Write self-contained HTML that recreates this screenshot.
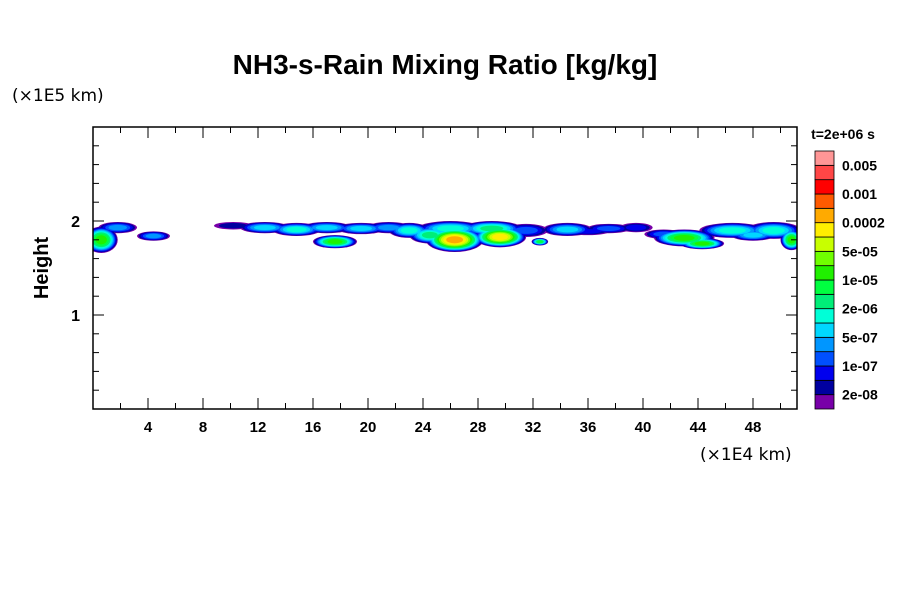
<!DOCTYPE html>
<html><head><meta charset="utf-8"><style>
body{margin:0;background:#fff;}
svg{display:block;font-family:"Liberation Sans",sans-serif;}
</style></head><body>
<svg id="c" width="900" height="600">
<text x="445" y="74" text-anchor="middle" font-size="28" font-weight="bold">NH3-s-Rain Mixing Ratio [kg/kg]</text>
<text x="12" y="101" font-size="17" font-family="DejaVu Sans, sans-serif">(×1E5 km)</text>
<text x="700" y="460" font-size="17" font-family="DejaVu Sans, sans-serif">(×1E4 km)</text>
<text x="48" y="268" font-size="20" font-weight="bold" text-anchor="middle" transform="rotate(-90 48 268)">Height</text>
<text x="843" y="139" font-size="14" font-weight="bold" text-anchor="middle">t=2e+06 s</text>
<g id="plot"></g>
<g id="axes"></g>
<g id="cbar"></g>
</svg>
<script>
const colors=["#7800a8","#0000a0","#0000ee","#0050ff","#0096ff","#00d7ff","#00ffd7","#00ee78","#00ff40","#20f000","#70ff00","#c8ff00","#ffee00","#ffaa00","#ff5a00","#ff0000","#ff4646","#ff9696"];
const cbLabels=["2e-08","1e-07","5e-07","2e-06","1e-05","5e-05","0.0002","0.001","0.005"];
const xTicks=[4,8,12,16,20,24,28,32,36,40,44,48];
const yTicks=[1,2];
// blobs: center x (1e4 km), center y (1e5 km), half-width, half-height, peak level
const blobX=[0.6,1.8,4.4,10.2,12.5,14.8,17.0,19.5,21.5,17.6,23.0,26.3,26.0,29.6,29.0,32.5,34.5,37.5,39.5,43.0,44.3,46.5,49.5,50.8,24.5,31.5,36.0,41.5,48.0];
const blobY=[1.80,1.93,1.84,1.95,1.93,1.91,1.93,1.92,1.93,1.78,1.90,1.80,1.92,1.83,1.92,1.78,1.91,1.92,1.93,1.82,1.76,1.90,1.90,1.80,1.85,1.90,1.89,1.86,1.85];
const blobW=[1.2,1.4,1.2,1.4,1.8,1.8,1.8,1.8,1.6,1.6,1.5,2.1,2.4,1.9,2.2,0.6,1.8,1.6,1.2,2.2,1.6,2.4,2.0,0.8,1.5,1.6,1.6,1.4,1.6];
const blobH=[0.14,0.06,0.05,0.04,0.06,0.07,0.06,0.06,0.06,0.07,0.08,0.13,0.08,0.11,0.08,0.04,0.07,0.05,0.05,0.09,0.06,0.08,0.09,0.11,0.09,0.07,0.04,0.05,0.06];
const blobP=[9,4,4,1,5,6,5,5,4,9,6,13,6,12,7,8,5,3,2,9,9,6,6,9,7,3,2,3,5];
const X0=93,X1=797,Y0=409,Y1=127,xMax=51.2,yMax=3.0;
const sx=v=>X0+v/xMax*(X1-X0), sy=v=>Y0-v/yMax*(Y0-Y1);
const NS="http://www.w3.org/2000/svg";
function el(t,a,p){const e=document.createElementNS(NS,t);for(const k in a)e.setAttribute(k,a[k]);p.appendChild(e);return e;}
const plot=document.getElementById('plot');
const cp=el('clipPath',{id:'clp'},plot);el('rect',{x:X0,y:Y1,width:X1-X0,height:Y0-Y1},cp);
const g=el('g',{'clip-path':'url(#clp)'},plot);
for(let k=0;k<=13;k++){
  for(let i=0;i<blobX.length;i++){
    if(blobP[i]<k)continue;
    const s=1-k/(blobP[i]+1.2);
    const e=el('ellipse',{cx:sx(blobX[i]),cy:sy(blobY[i]),rx:(sx(blobW[i])-X0)*Math.sqrt(s),ry:(Y0-sy(blobH[i]))*Math.sqrt(s),fill:colors[k]},g);
    
    
  }
}
const ax=document.getElementById('axes');
const fr=el('rect',{x:X0,y:Y1,width:X1-X0,height:Y0-Y1,fill:'none',stroke:'#000','stroke-width':1.5},ax);


for(let v=2;v<xMax;v+=2){const x=sx(v),L=(v%4===0)?11:6;
 el('line',{x1:x,y1:Y0,x2:x,y2:Y0-L,stroke:'#000'},ax);el('line',{x1:x,y1:Y1,x2:x,y2:Y1+L,stroke:'#000'},ax);}
for(let i=1;i<15;i++){const v=i*0.2,y=sy(v),L=(i%5===0)?11:6;
 el('line',{x1:X0,y1:y,x2:X0+L,y2:y,stroke:'#000'},ax);el('line',{x1:X1,y1:y,x2:X1-L,y2:y,stroke:'#000'},ax);}
xTicks.forEach(v=>{const t=el('text',{x:sx(v),y:432,'text-anchor':'middle','font-size':15,'font-weight':'bold'},ax);t.textContent=v;
 
 });
yTicks.forEach(v=>{const t=el('text',{x:80,y:sy(v)+6,'text-anchor':'end','font-size':16,'font-weight':'bold'},ax);t.textContent=v;
 
 });
const cb=document.getElementById('cbar');
const cbTop=151,cbBot=409,bh=(cbBot-cbTop)/colors.length;
colors.forEach((c,i)=>{const r=el('rect',{x:815,y:cbBot-(i+1)*bh,width:19,height:bh,fill:c,stroke:'#000','stroke-width':0.8},cb);
 
 });
cbLabels.forEach((l,i)=>{const t=el('text',{x:842,y:cbBot-(2*i+1)*bh+5,'font-size':14,'font-weight':'bold'},cb);t.textContent=l;
 
 });
</script>
</body></html>
